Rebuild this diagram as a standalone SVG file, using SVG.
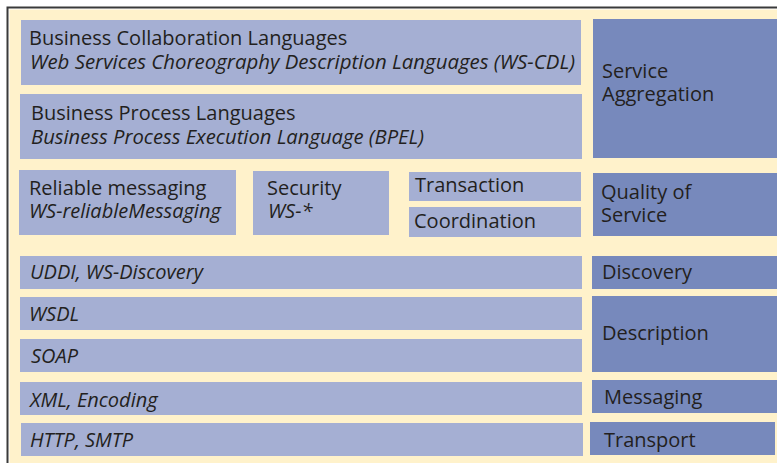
<svg xmlns="http://www.w3.org/2000/svg" width="777" height="463" viewBox="0 0 777 463">
  <style>
    .lt { fill: #a5afd3; }
    .dk { fill: #7789bc; }
    text { font-family: "Open Sans", "Noto Sans", "DejaVu Sans", sans-serif; font-size: 20px; fill: #231f20; }
    .it { font-style: italic; }
  </style>
  <!-- page and frame -->
  <rect x="0" y="0" width="777" height="463" fill="#ffffff"/>
  <rect x="9.5" y="9.5" width="770" height="460" fill="#fff2cb"/>
  <path d="M7.5 463 V7.5 H777" fill="none" stroke="#3a3a3a" stroke-width="2"/>

  <!-- stack layers -->
  <g id="bcl">
    <rect class="lt" x="21" y="20" width="560" height="65"/>
    <text x="29" y="45">Business Collaboration Languages</text>
    <text class="it" x="30" y="69" textLength="545" lengthAdjust="spacingAndGlyphs">Web Services Choreography Description Languages (WS-CDL)</text>
  </g>
  <g id="bpl">
    <rect class="lt" x="20" y="94" width="562" height="65"/>
    <text x="31" y="120">Business Process Languages</text>
    <text class="it" x="31" y="144" textLength="393" lengthAdjust="spacingAndGlyphs">Business Process Execution Language (BPEL)</text>
  </g>
  <g id="service-aggregation">
    <rect class="dk" x="593" y="19" width="184" height="139"/>
    <text x="602" y="78">Service</text>
    <text x="602" y="101">Aggregation</text>
  </g>
  <g id="reliable-messaging">
    <rect class="lt" x="19" y="170" width="217" height="65"/>
    <text x="29" y="195">Reliable messaging</text>
    <text class="it" x="29" y="218">WS-reliableMessaging</text>
  </g>
  <g id="security">
    <rect class="lt" x="253" y="171" width="136" height="64"/>
    <text x="267" y="195">Security</text>
    <text class="it" x="268" y="218">WS-*</text>
  </g>
  <g id="transaction">
    <rect class="lt" x="409" y="172" width="172" height="29"/>
    <text x="415" y="192">Transaction</text>
  </g>
  <g id="coordination">
    <rect class="lt" x="409" y="207" width="172" height="30"/>
    <text x="414" y="228">Coordination</text>
  </g>
  <g id="qos">
    <rect class="dk" x="593" y="173" width="184" height="63"/>
    <text x="601" y="199">Quality of</text>
    <text x="601" y="222">Service</text>
  </g>
  <g id="uddi">
    <rect class="lt" x="20" y="256" width="562" height="33"/>
    <text class="it" x="30" y="279">UDDI, WS-Discovery</text>
  </g>
  <g id="wsdl">
    <rect class="lt" x="20" y="297" width="562" height="33"/>
    <text class="it" x="29" y="321">WSDL</text>
  </g>
  <g id="soap">
    <rect class="lt" x="20" y="339" width="562" height="33"/>
    <text class="it" x="31" y="363">SOAP</text>
  </g>
  <g id="xml">
    <rect class="lt" x="20" y="382" width="562" height="33"/>
    <text class="it" x="30" y="407">XML, Encoding</text>
  </g>
  <g id="http">
    <rect class="lt" x="21" y="423" width="562" height="33"/>
    <text class="it" x="30" y="447">HTTP, SMTP</text>
  </g>
  <g id="discovery">
    <rect class="dk" x="592" y="256" width="185" height="33"/>
    <text x="602" y="279">Discovery</text>
  </g>
  <g id="description">
    <rect class="dk" x="592" y="296" width="185" height="76"/>
    <text x="602" y="340">Description</text>
  </g>
  <g id="messaging">
    <rect class="dk" x="592" y="380" width="185" height="33"/>
    <text x="604" y="404">Messaging</text>
  </g>
  <g id="transport">
    <rect class="dk" x="590" y="422" width="185" height="33"/>
    <text x="604" y="447">Transport</text>
  </g>
</svg>
